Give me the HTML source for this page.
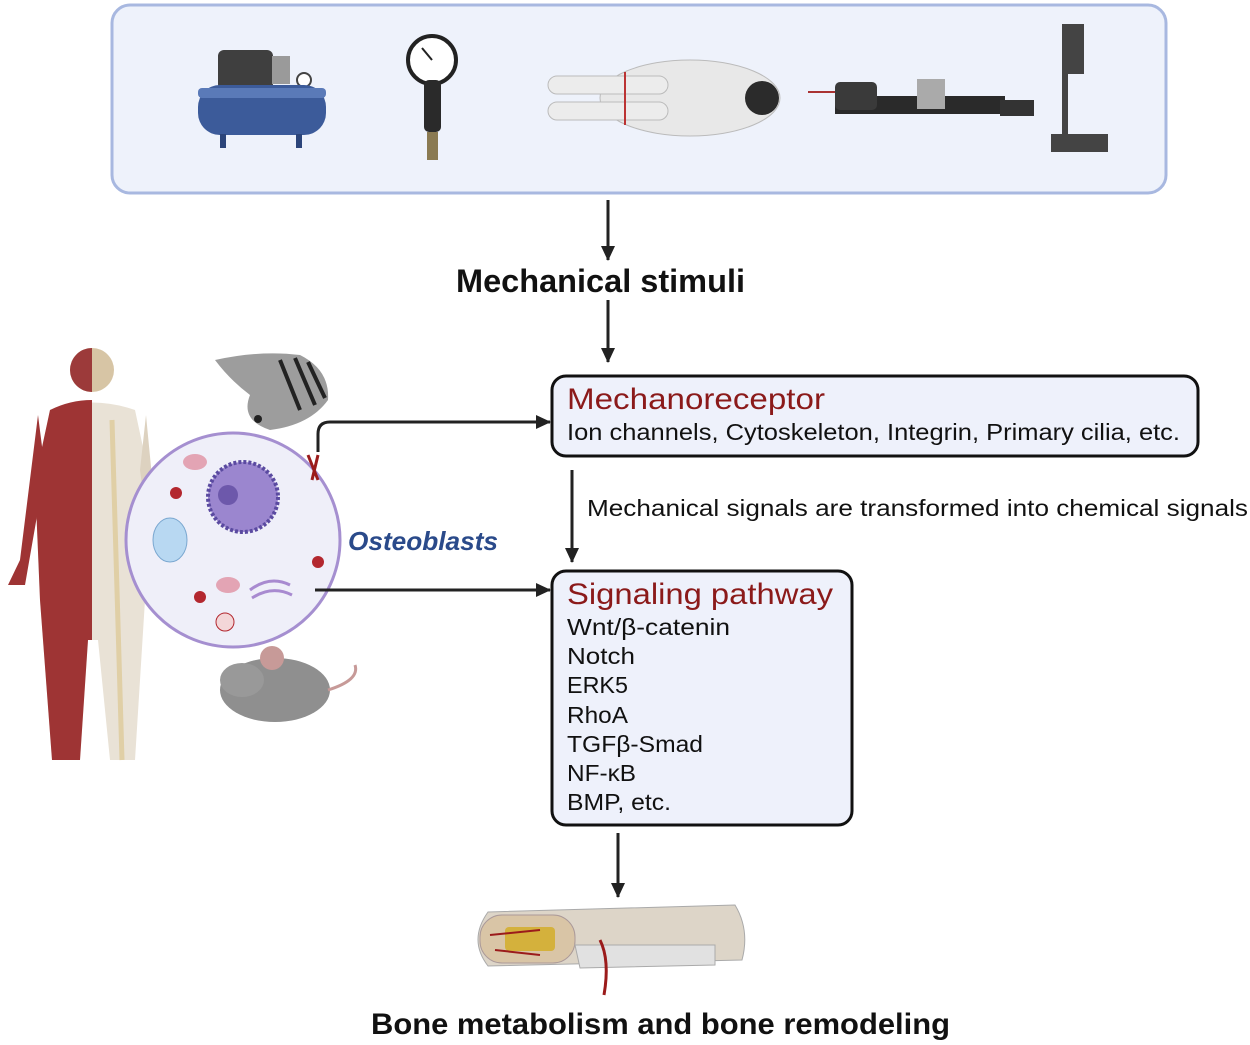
<!DOCTYPE html>
<html><head><meta charset="utf-8"><style>
html,body{margin:0;padding:0;background:#fff;}
svg{display:block;font-family:"Liberation Sans",sans-serif;}
</style></head><body>
<svg width="1250" height="1045" viewBox="0 0 1250 1045" xmlns="http://www.w3.org/2000/svg">
<defs>
<marker id="ah" markerWidth="16" markerHeight="16" refX="14" refY="8" orient="auto" markerUnits="userSpaceOnUse"><path d="M0,1 L15,8 L0,15 z" fill="#222"/></marker>
</defs>
<rect x="112" y="5" width="1054" height="188" rx="18" fill="#eef2fb" stroke="#a8b8e0" stroke-width="3"/>
<!-- compressor -->
<rect x="218" y="50" width="55" height="40" rx="6" fill="#3f3f3f"/>
<rect x="272" y="56" width="18" height="28" fill="#9a9a9a"/>
<circle cx="304" cy="80" r="7" fill="#fff" stroke="#444" stroke-width="2"/>
<rect x="198" y="85" width="128" height="50" rx="22" fill="#3c5b9a"/>
<rect x="198" y="88" width="128" height="10" rx="4" fill="#5a7ab8"/>
<rect x="220" y="134" width="6" height="14" fill="#2c457a"/><rect x="296" y="134" width="6" height="14" fill="#2c457a"/>
<!-- gauge -->
<circle cx="432" cy="60" r="24" fill="#fff" stroke="#222" stroke-width="4"/>
<line x1="432" y1="60" x2="422" y2="48" stroke="#222" stroke-width="2"/>
<rect x="424" y="80" width="17" height="52" rx="5" fill="#2a2a2a"/>
<rect x="427" y="132" width="11" height="28" fill="#8a7a52"/>
<!-- astronaut -->
<ellipse cx="690" cy="98" rx="90" ry="38" fill="#e8e8e8" stroke="#bbb"/>
<rect x="548" y="76" width="120" height="18" rx="9" fill="#ececec" stroke="#bbb"/>
<rect x="548" y="102" width="120" height="18" rx="9" fill="#ececec" stroke="#bbb"/>
<line x1="625" y1="72" x2="625" y2="125" stroke="#b33" stroke-width="2"/>
<circle cx="762" cy="98" r="17" fill="#2b2b2b"/>
<!-- tool -->
<rect x="835" y="96" width="170" height="18" fill="#2a2a2a"/>
<rect x="835" y="82" width="42" height="28" rx="5" fill="#3a3a3a"/>
<rect x="917" y="79" width="28" height="30" fill="#aaa"/>
<rect x="1000" y="100" width="34" height="16" fill="#333"/>
<line x1="808" y1="92" x2="835" y2="92" stroke="#a33" stroke-width="2"/>
<!-- stand -->
<rect x="1062" y="24" width="22" height="50" fill="#444"/>
<rect x="1062" y="74" width="6" height="60" fill="#444"/>
<rect x="1051" y="134" width="57" height="18" fill="#444"/>
<!-- arrows -->
<line x1="608" y1="200" x2="608" y2="260" stroke="#222" stroke-width="3" marker-end="url(#ah)"/>
<text x="456" y="292" font-size="32" font-weight="bold" textLength="289" lengthAdjust="spacingAndGlyphs" fill="#111">Mechanical stimuli</text>
<line x1="608" y1="300" x2="608" y2="362" stroke="#222" stroke-width="3" marker-end="url(#ah)"/>
<!-- mechanoreceptor -->
<rect x="552" y="376" width="646" height="80" rx="14" fill="#eef1fb" stroke="#111" stroke-width="3"/>
<text x="567" y="409" font-size="30" fill="#8b1a1a" textLength="258" lengthAdjust="spacingAndGlyphs">Mechanoreceptor</text>
<text x="567" y="440" font-size="23" fill="#111" textLength="613" lengthAdjust="spacingAndGlyphs">Ion channels, Cytoskeleton, Integrin, Primary cilia, etc.</text>
<line x1="572" y1="470" x2="572" y2="562" stroke="#222" stroke-width="3" marker-end="url(#ah)"/>
<text x="587" y="516" font-size="23" fill="#111" textLength="661" lengthAdjust="spacingAndGlyphs">Mechanical signals are transformed into chemical signals</text>
<!-- signaling -->
<rect x="552" y="571" width="300" height="254" rx="14" fill="#eef1fb" stroke="#111" stroke-width="3"/>
<text x="567" y="604" font-size="30" fill="#8b1a1a" textLength="266" lengthAdjust="spacingAndGlyphs">Signaling pathway</text>
<g font-size="23" fill="#111">
<text x="567" y="635" textLength="163" lengthAdjust="spacingAndGlyphs">Wnt/β-catenin</text>
<text x="567" y="664" textLength="68" lengthAdjust="spacingAndGlyphs">Notch</text>
<text x="567" y="693" textLength="61" lengthAdjust="spacingAndGlyphs">ERK5</text>
<text x="567" y="723" textLength="61" lengthAdjust="spacingAndGlyphs">RhoA</text>
<text x="567" y="752" textLength="136" lengthAdjust="spacingAndGlyphs">TGFβ-Smad</text>
<text x="567" y="781" textLength="69" lengthAdjust="spacingAndGlyphs">NF-κB</text>
<text x="567" y="810" textLength="104" lengthAdjust="spacingAndGlyphs">BMP, etc.</text>
</g>
<line x1="618" y1="833" x2="618" y2="897" stroke="#222" stroke-width="3" marker-end="url(#ah)"/>
<!-- bone -->
<path d="M488,912 L735,905 Q750,930 742,960 L488,966 Q468,940 488,912 z" fill="#ddd5c8" stroke="#aaa"/>
<rect x="480" y="915" width="95" height="48" rx="22" fill="#d9c5a6" stroke="#a99"/>
<rect x="505" y="927" width="50" height="24" rx="4" fill="#d4b13c"/>
<path d="M575,945 L715,945 L715,965 L580,968 z" fill="#e1e1e1" stroke="#aaa"/>
<path d="M600,940 Q610,960 604,995" stroke="#9b1b1b" stroke-width="3" fill="none"/>
<path d="M490,935 L540,930 M495,950 L540,955" stroke="#9b1b1b" stroke-width="2"/>
<text x="371" y="1034" font-size="30" font-weight="bold" textLength="579" lengthAdjust="spacingAndGlyphs" fill="#111">Bone metabolism and bone remodeling</text>
<!-- human -->
<circle cx="92" cy="370" r="22" fill="#d7c5a5"/>
<path d="M92,348 a22,22 0 0 0 0,44 z" fill="#9c3a3a"/>
<path d="M50,410 Q92,395 135,410 L150,480 L145,600 L135,760 L110,760 L98,640 L88,640 L80,760 L52,760 L40,600 L35,480 z" fill="#e9e2d6"/>
<path d="M50,410 Q70,400 92,400 L92,640 L88,640 L80,760 L52,760 L40,600 L35,480 z" fill="#9e3434"/>
<path d="M38,415 L20,560 L8,585 L25,585 L45,470 z" fill="#9e3434"/>
<path d="M146,415 L160,560 L170,580 L155,585 L140,470 z" fill="#ddd2c0"/>
<line x1="112" y1="420" x2="122" y2="760" stroke="#e0cfa6" stroke-width="5"/>
<!-- fish -->
<path d="M215,360 Q260,350 300,355 Q330,370 328,400 Q310,425 270,430 Q240,420 250,395 Q230,380 215,360 z" fill="#9d9d9d"/>
<path d="M280,360 L300,410 M295,358 L315,405 M308,362 L325,398" stroke="#222" stroke-width="4"/>
<circle cx="258" cy="419" r="4" fill="#222"/>
<!-- cell -->
<circle cx="233" cy="540" r="107" fill="#efeff9" stroke="#a58fd0" stroke-width="3"/>
<circle cx="243" cy="497" r="35" fill="#9b86cf" stroke="#5a4aa0" stroke-width="4" stroke-dasharray="3 2"/>
<circle cx="228" cy="495" r="10" fill="#6d58ab"/>
<ellipse cx="170" cy="540" rx="17" ry="22" fill="#b8d8f2" stroke="#7aa7d0"/>
<ellipse cx="195" cy="462" rx="12" ry="8" fill="#e3a4b4"/>
<ellipse cx="228" cy="585" rx="12" ry="8" fill="#e3a4b4"/>
<circle cx="176" cy="493" r="6" fill="#b3272f"/>
<circle cx="200" cy="597" r="6" fill="#b3272f"/>
<circle cx="318" cy="562" r="6" fill="#b3272f"/>
<circle cx="225" cy="622" r="9" fill="#f3d6d8" stroke="#b3272f"/>
<path d="M250,590 Q270,575 290,585 M252,598 Q272,585 292,595" stroke="#a88ad0" stroke-width="3" fill="none"/>
<path d="M308,455 L318,480 M318,455 L312,480" stroke="#9b1b1b" stroke-width="3"/>
<!-- mouse -->
<ellipse cx="275" cy="690" rx="55" ry="32" fill="#8f8f8f"/>
<ellipse cx="242" cy="680" rx="22" ry="17" fill="#999"/>
<circle cx="272" cy="658" r="12" fill="#c79a98"/>
<path d="M328,690 Q360,680 355,665" stroke="#c79a98" stroke-width="3" fill="none"/>
<!-- connectors -->
<path d="M318,452 L318,434 Q318,422 330,422 L550,422" stroke="#222" stroke-width="3" fill="none" marker-end="url(#ah)"/>
<line x1="315" y1="590" x2="550" y2="590" stroke="#222" stroke-width="3" marker-end="url(#ah)"/>
<text x="348" y="550" font-size="26" font-weight="bold" font-style="italic" fill="#2a4a8a" textLength="150" lengthAdjust="spacingAndGlyphs">Osteoblasts</text>
</svg>
</body></html>
